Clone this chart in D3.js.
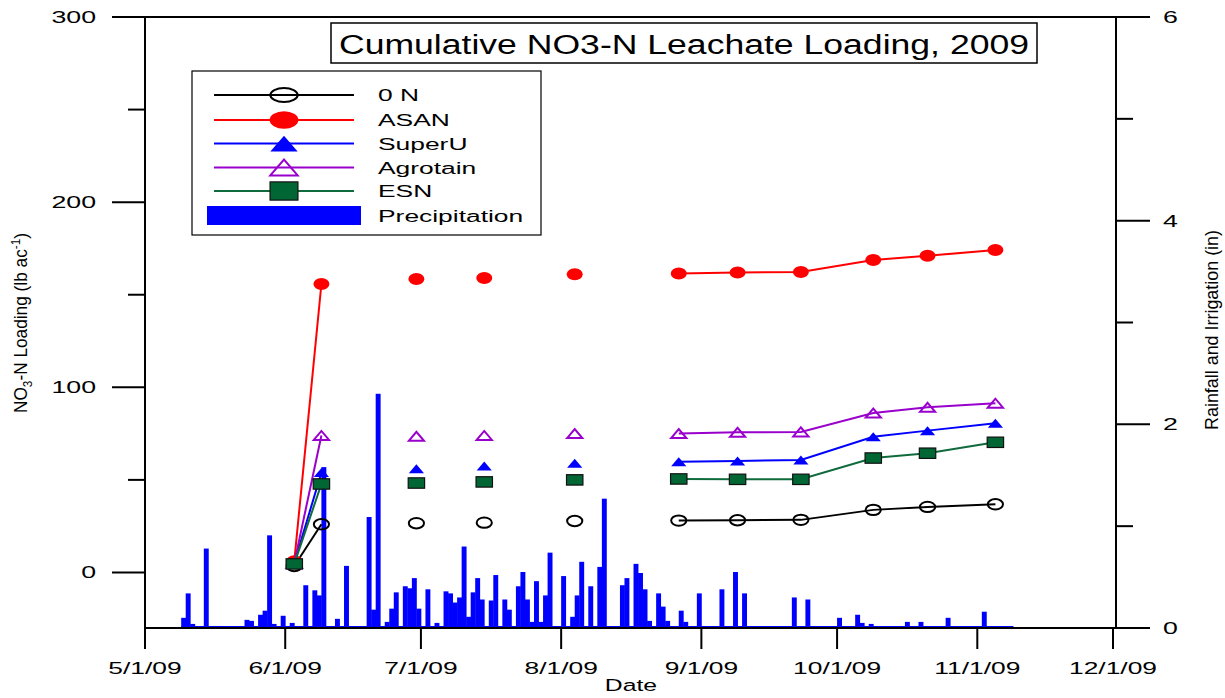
<!DOCTYPE html>
<html>
<head>
<meta charset="utf-8">
<script src="https://cdn.jsdelivr.net/npm/d3@7"></script>
<style>
    body { margin: 0; background: #fff; }
    text { font-family: "Liberation Sans", Arial, sans-serif; fill: #000; }
</style>
</head>
<body>
<script>
// sampling dates for the leachate loading (lb/ac)
let sampleDates = ["2009-06-03", "2009-06-09", "2009-06-30", "2009-07-15", "2009-08-04",
    "2009-08-27", "2009-09-09", "2009-09-23", "2009-10-09", "2009-10-21", "2009-11-05"];
let zeroN    = [3.5, 26, 26.6, 26.9, 27.8, 28, 28.2, 28.4, 33.8, 35.4, 36.8];
let asan     = [6, 155.8, 158.5, 159, 161, 161.5, 162, 162.3, 168.8, 171, 174.2];
let superU   = [5, 54, 56, 57.5, 59, 59.8, 60.2, 60.8, 73.3, 76.6, 80.6];
let agrotain = [5, 74, 73.5, 74, 75, 75, 75.7, 75.9, 86.1, 89.2, 91.4];
let esn      = [4.6, 47.8, 48.3, 48.9, 50, 50.5, 50.3, 50.3, 61.8, 64.4, 70.3];
// which samples are joined by lines (index ranges)
let lineRuns = [[0, 1], [5, 10]];

// daily rainfall + irrigation (in)
let precipDates = ["2009-05-09", "2009-05-10", "2009-05-11", "2009-05-14", "2009-05-16", "2009-05-17",
    "2009-05-23", "2009-05-24", "2009-05-26", "2009-05-27", "2009-05-28", "2009-05-29", "2009-05-31",
    "2009-06-01", "2009-06-02", "2009-06-05", "2009-06-07", "2009-06-08", "2009-06-09", "2009-06-12",
    "2009-06-14", "2009-06-19", "2009-06-20", "2009-06-21", "2009-06-23", "2009-06-24", "2009-06-25",
    "2009-06-27", "2009-06-28", "2009-06-29", "2009-06-30", "2009-07-02", "2009-07-04", "2009-07-06",
    "2009-07-07", "2009-07-08", "2009-07-09", "2009-07-10", "2009-07-11", "2009-07-12", "2009-07-13",
    "2009-07-14", "2009-07-16", "2009-07-17", "2009-07-19", "2009-07-20", "2009-07-22", "2009-07-23",
    "2009-07-24", "2009-07-25", "2009-07-26", "2009-07-27", "2009-07-28", "2009-07-29", "2009-08-01",
    "2009-08-03", "2009-08-04", "2009-08-05", "2009-08-07", "2009-08-09", "2009-08-10", "2009-08-14",
    "2009-08-15", "2009-08-17", "2009-08-18", "2009-08-19", "2009-08-20", "2009-08-22", "2009-08-23",
    "2009-08-24", "2009-08-27", "2009-08-28", "2009-08-31", "2009-09-05", "2009-09-08", "2009-09-10",
    "2009-09-11", "2009-09-21", "2009-09-24", "2009-09-25", "2009-10-01", "2009-10-05", "2009-10-06",
    "2009-10-08", "2009-10-16", "2009-10-19", "2009-10-25", "2009-11-02", "2009-11-08"];
let precipIn = [0.10, 0.34, 0.04, 0.78, 0.02, 0.02,
    0.08, 0.07, 0.13, 0.17, 0.91, 0.04, 0.12,
    0.02, 0.05, 0.42, 0.37, 0.32, 1.58, 0.09,
    0.61, 1.09, 0.18, 2.30, 0.06, 0.19, 0.35,
    0.41, 0.39, 0.49, 0.19, 0.38, 0.05, 0.36,
    0.34, 0.25, 0.30, 0.80, 0.11, 0.35, 0.49,
    0.28, 0.27, 0.52, 0.28, 0.18, 0.41, 0.55,
    0.28, 0.06, 0.46, 0.06, 0.32, 0.74, 0.51,
    0.11, 0.32, 0.65, 0.41, 0.60, 1.27, 0.42,
    0.49, 0.63, 0.54, 0.38, 0.07, 0.34, 0.21,
    0.07, 0.17, 0.06, 0.34, 0.38, 0.55, 0.34,
    0.01, 0.30, 0.28, 0.01, 0.10, 0.13, 0.05,
    0.04, 0.06, 0.06, 0.10, 0.16, 0];

let xTickDates = ["2009-05-01", "2009-06-01", "2009-07-01", "2009-08-01",
    "2009-09-01", "2009-10-01", "2009-11-01", "2009-12-01"];
let leftMajor = [0, 100, 200, 300];
let leftMinor = [50, 150, 250];
let rightMajor = [0, 2, 4, 6];
let rightMinor = [1, 3, 5];

let seriesNames = ["0 N", "ASAN", "SuperU", "Agrotain", "ESN"];

let w = 1225,
    h = 698;
let mLeft = 145, mRight = 1116, mTop = 17, mBottom = 628;

let parse = d3.timeParse("%Y-%m-%d");
let fmt = d3.timeFormat("%-m/%-d/%y");

let svg = d3.select("body")
    .append("svg")
    .attr("width", w)
    .attr("height", h);

let x = d3.scaleTime()
    .domain([parse("2009-05-01"), parse("2009-12-01")])
    .range([mLeft, 1113]);

let y = d3.scaleLinear()
    .domain([-30, 300])
    .range([mBottom, mTop]);

let yR = d3.scaleLinear()
    .domain([0, 6])
    .range([mBottom, mTop]);

// stretched text helper (the original fonts are wide)
function label(g, px, py, txt, size, sx, anchor) {
    return g.append("text")
        .attr("transform", "translate(" + px + "," + py + ") scale(" + sx + ",1)")
        .attr("text-anchor", anchor)
        .style("font-size", size + "px")
        .text(txt);
}

// precipitation bars, one day wide
let pData = precipDates.map(function(d, i) {
    return { date: parse(d), v: precipIn[i] };
});
let dayW = x(parse("2009-05-02")) - x(parse("2009-05-01"));

svg.append("line")
    .attr("x1", x(pData[0].date))
    .attr("x2", x(pData[pData.length - 1].date) + dayW)
    .attr("y1", yR(0) - 1)
    .attr("y2", yR(0) - 1)
    .style("stroke", "#0000ff")
    .style("stroke-width", 2);

svg.selectAll(".bar")
    .data(pData)
    .enter()
    .append("rect")
    .attr("class", "bar")
    .attr("x", function(d) { return x(d.date); })
    .attr("width", dayW + 0.4)
    .attr("y", function(d) { return yR(d.v); })
    .attr("height", function(d) { return yR(0) - yR(d.v); })
    .style("fill", "#0000ff");

// axes
let axes = svg.append("g")
    .style("stroke", "#000")
    .style("stroke-width", 2)
    .style("fill", "none");

axes.append("line").attr("x1", mLeft).attr("x2", mLeft).attr("y1", mTop - 1).attr("y2", mBottom + 21);
axes.append("line").attr("x1", mRight).attr("x2", mRight).attr("y1", mTop - 1).attr("y2", mBottom + 1);
axes.append("line").attr("x1", mLeft).attr("x2", mRight).attr("y1", mTop).attr("y2", mTop);
axes.append("line").attr("x1", mLeft).attr("x2", mRight).attr("y1", mBottom).attr("y2", mBottom);

leftMajor.forEach(function(v) {
    axes.append("line").attr("x1", mLeft - 33).attr("x2", mLeft).attr("y1", y(v)).attr("y2", y(v));
});
leftMinor.forEach(function(v) {
    axes.append("line").attr("x1", mLeft - 17).attr("x2", mLeft).attr("y1", y(v)).attr("y2", y(v));
});
rightMajor.forEach(function(v) {
    axes.append("line").attr("x1", mRight).attr("x2", mRight + 34).attr("y1", yR(v)).attr("y2", yR(v));
});
rightMinor.forEach(function(v) {
    axes.append("line").attr("x1", mRight).attr("x2", mRight + 17).attr("y1", yR(v)).attr("y2", yR(v));
});
xTickDates.forEach(function(d) {
    let px = x(parse(d));
    axes.append("line").attr("x1", px).attr("x2", px).attr("y1", mBottom).attr("y2", mBottom + 21);
});

let labels = svg.append("g");
leftMajor.forEach(function(v) {
    label(labels, 96, y(v) + 6, v, 16.5, 1.62, "end");
});
rightMajor.forEach(function(v) {
    label(labels, 1163, yR(v) + 6, v, 16.5, 1.62, "start");
});
xTickDates.forEach(function(d) {
    label(labels, x(parse(d)), 674, fmt(parse(d)), 16.5, 1.6, "middle");
});
label(labels, 631, 691, "Date", 16.5, 1.5, "middle");

// rotated axis titles
let yl = labels.append("text")
    .attr("transform", "translate(27,323) rotate(-90)")
    .attr("text-anchor", "middle")
    .attr("textLength", 180)
    .attr("lengthAdjust", "spacingAndGlyphs")
    .style("font-size", "19px");
yl.append("tspan").text("NO");
yl.append("tspan").text("3").style("font-size", "13px").attr("dy", 5);
yl.append("tspan").text("-N Loading (lb ac").attr("dy", -5);
yl.append("tspan").text("-1").style("font-size", "13px").attr("dy", -7);
yl.append("tspan").text(")").attr("dy", 7);

labels.append("text")
    .attr("transform", "translate(1218,330) rotate(-90)")
    .attr("text-anchor", "middle")
    .attr("textLength", 200)
    .attr("lengthAdjust", "spacingAndGlyphs")
    .style("font-size", "17.5px")
    .text("Rainfall and Irrigation (in)");

// title box
svg.append("rect")
    .attr("x", 331).attr("y", 23)
    .attr("width", 706).attr("height", 40)
    .style("fill", "#fff")
    .style("stroke", "#000")
    .style("stroke-width", 1.5);
svg.append("text")
    .attr("x", 684).attr("y", 54)
    .attr("text-anchor", "middle")
    .attr("textLength", 690)
    .attr("lengthAdjust", "spacingAndGlyphs")
    .style("font-size", "27px")
    .text("Cumulative NO3-N Leachate Loading, 2009");

// series
let colors = ["#000000", "#ff0000", "#0000ff", "#9900cc", "#0f6b3c"];
let values = [zeroN, asan, superU, agrotain, esn];

function marker(g, kind, cx, cy, big) {
    let k = big ? 1.8 : 1;
    if (kind == 0) {
        g.append("ellipse").attr("cx", cx).attr("cy", cy)
            .attr("rx", 7.6 * k).attr("ry", 5.2 * (big ? 1.35 : 1))
            .style("fill", "none").style("stroke", "#000").style("stroke-width", 2);
    } else if (kind == 1) {
        g.append("ellipse").attr("cx", cx).attr("cy", cy)
            .attr("rx", 8 * k).attr("ry", 6 * (big ? 1.45 : 1))
            .style("fill", "#ff0000");
    } else if (kind == 2 || kind == 3) {
        let hw = 7.6 * k, hh = 4.5 * (big ? 1.75 : 1);
        g.append("path")
            .attr("d", "M" + (cx - hw) + "," + (cy + hh) + "L" + cx + "," + (cy - hh) + "L" + (cx + hw) + "," + (cy + hh) + "Z")
            .style("fill", kind == 2 ? "#0000ff" : "none")
            .style("stroke", kind == 2 ? "none" : "#9900cc")
            .style("stroke-width", 2);
    } else {
        let hw = 8.2 * (big ? 1.7 : 1), hh = 5.2 * (big ? 1.75 : 1);
        g.append("rect").attr("x", cx - hw).attr("y", cy - hh)
            .attr("width", hw * 2).attr("height", hh * 2)
            .style("fill", "#006633").style("stroke", "#111").style("stroke-width", 1.2);
    }
}

let line = d3.line()
    .x(function(d) { return x(parse(d[0])); })
    .y(function(d) { return y(d[1]); });

values.forEach(function(vals, s) {
    let g = svg.append("g").attr("class", "series");
    let pts = sampleDates.map(function(d, i) { return [d, vals[i]]; });
    lineRuns.forEach(function(r) {
        g.append("path")
            .datum(pts.slice(r[0], r[1] + 1))
            .attr("d", line)
            .style("fill", "none")
            .style("stroke", colors[s])
            .style("stroke-width", 2);
    });
    pts.forEach(function(p) {
        marker(g, s, x(parse(p[0])), y(p[1]), false);
    });
});

// legend
let lg = svg.append("g");
lg.append("rect")
    .attr("x", 192).attr("y", 71)
    .attr("width", 349).attr("height", 164)
    .style("fill", "#fff")
    .style("stroke", "#000")
    .style("stroke-width", 1.2);
let rowY = [95, 120, 143.5, 167.5, 191];
seriesNames.forEach(function(n, i) {
    lg.append("line")
        .attr("x1", 214).attr("x2", 354)
        .attr("y1", rowY[i]).attr("y2", rowY[i])
        .style("stroke", colors[i])
        .style("stroke-width", 2);
    marker(lg, i, 284, rowY[i], true);
    label(lg, 378, rowY[i] + 6, n, 16, 1.65, "start");
});
lg.append("rect")
    .attr("x", 207).attr("y", 206)
    .attr("width", 154).attr("height", 19)
    .style("fill", "#0000ff");
label(lg, 378, 221.5, "Precipitation", 16, 1.65, "start");
</script>
</body>
</html>
